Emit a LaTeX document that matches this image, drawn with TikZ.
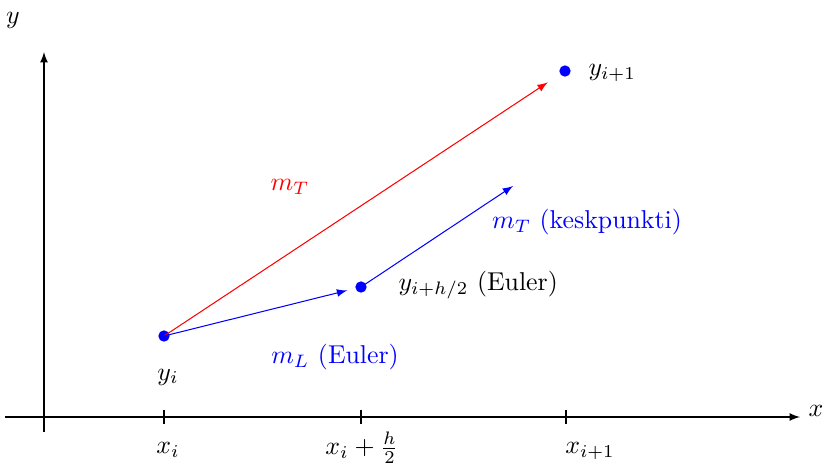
\documentclass[tikz,border=0pt]{standalone}
\usetikzlibrary{arrows}
\begin{document}
\begin{tikzpicture}[x=0.3876pt,y=-0.3876pt,
  axis/.style={black,line width=0.4pt,-latex},
  dot/.style={circle,fill=blue,inner sep=0pt,minimum size=4.4pt},
  vec/.style={line width=0.4pt,-latex},
  lbl/.style={inner sep=0pt}]
\useasboundingbox (0,0) rectangle (828,464);
% axes
\coordinate (xs) at (5,417);
\coordinate (xe) at (800,417);
\coordinate (ys) at (44,432);
\coordinate (ye) at (44,52);
\draw[axis] (xs) -- (xe);
\draw[axis] (ys) -- (ye);
\node[lbl] (xlab) at (816,411) {$x$};
\node[lbl] (ylab) at (13,20) {$y$};
% ticks
\foreach \n/\xx in {t1/164,t2/361,t3/566}{
  \draw[line width=0.4pt] (\xx,410) -- (\xx,424);
}
\node[lbl] (xi) at (168,450) {$x_i$};
\node[lbl] (xh) at (362,448) {$x_i+\frac{h}{2}$};
\node[lbl] (xi1) at (590,451) {$x_{i+1}$};
% points
\node[dot] (p0) at (164,336) {};
\node[dot] (pm) at (361,287) {};
\node[dot] (p1) at (565,71) {};
\coordinate (mend) at (513,186);
% vectors
\draw[vec,red,shorten >=8pt] (p0.center) -- (p1.center);
\draw[vec,blue,shorten >=5.5pt] (p0.center) -- (pm.center);
\draw[vec,blue] (pm.center) -- (mend);
% labels
\node[lbl] (lyi) at (168,377) {$y_i$};
\node[lbl,anchor=west] (lyi1) at (588,73) {$y_{i+1}$};
\node[lbl,anchor=west] (lym) at (398,285) {$y_{i+h/2}$ (Euler)};
\node[lbl,red] (lmt) at (290,187) {$m_T$};
\node[lbl,blue] (lmk) at (587,222) {$m_T$ (keskpunkti)};
\node[lbl,blue] (lml) at (335,357) {$m_L$ (Euler)};
\end{tikzpicture}
\end{document}
